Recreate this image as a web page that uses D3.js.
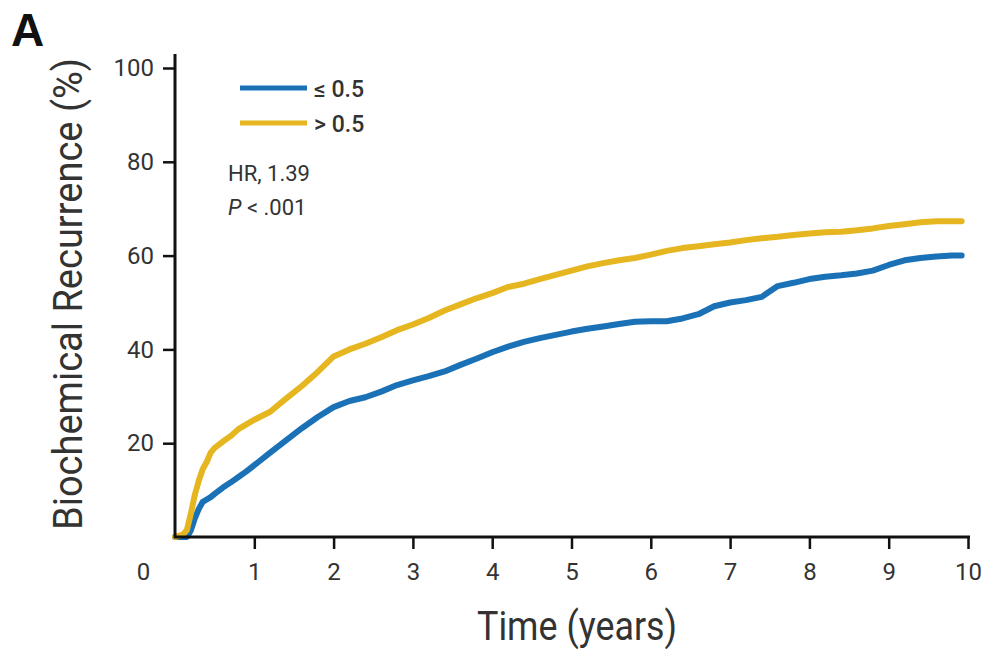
<!DOCTYPE html>
<html>
<head>
<meta charset="utf-8">
<script src="https://cdn.jsdelivr.net/npm/d3@7"></script>
<style>
  body { margin: 0; background: #fff; }
  text { font-family: Roboto, "Liberation Sans", sans-serif; fill: #333; }
</style>
</head>
<body>
<div id="chart"></div>
<script>
// time grid (years)
const years = [0, 0.1, 0.15, 0.2, 0.25, 0.3, 0.35, 0.4, 0.45, 0.5, 0.6, 0.7, 0.8, 0.9,
  1.0, 1.2, 1.4, 1.6, 1.8, 2.0, 2.2, 2.4, 2.6, 2.8, 3.0, 3.2, 3.4, 3.6, 3.8,
  4.0, 4.2, 4.4, 4.6, 4.8, 5.0, 5.2, 5.4, 5.6, 5.8, 6.0, 6.2, 6.4, 6.6, 6.8,
  7.0, 7.2, 7.4, 7.6, 7.8, 8.0, 8.2, 8.4, 8.6, 8.8, 9.0, 9.2, 9.4, 9.6, 9.8, 9.92];

// recurrence (%) for <= 0.5
const lowPct = [0, 0, 0, 1.4, 4, 6, 7.5, 8, 8.5, 9.2, 10.5, 11.6, 12.8, 14,
  15.3, 18, 20.6, 23.2, 25.6, 27.7, 29, 29.8, 31, 32.4, 33.4, 34.3, 35.3, 36.7, 38,
  39.4, 40.6, 41.6, 42.4, 43.1, 43.8, 44.4, 44.9, 45.4, 45.9, 46, 46, 46.6, 47.5, 49.2,
  50, 50.5, 51.2, 53.5, 54.2, 55, 55.5, 55.8, 56.2, 56.8, 58, 59, 59.5, 59.8, 60, 60];

// recurrence (%) for > 0.5
const highPct = [0, 0.5, 1.5, 5, 9, 12, 14.5, 16, 18, 19, 20.3, 21.5, 23, 24,
  25, 26.7, 29.5, 32.2, 35.2, 38.5, 40, 41.2, 42.6, 44.1, 45.3, 46.7, 48.3, 49.6, 50.9,
  52, 53.3, 54, 55, 55.9, 56.8, 57.7, 58.4, 59, 59.5, 60.2, 61, 61.6, 62, 62.4,
  62.8, 63.3, 63.7, 64, 64.4, 64.7, 65, 65.1, 65.4, 65.8, 66.3, 66.7, 67.1, 67.3, 67.3, 67.3];

const yTicks = [20, 40, 60, 80, 100];
const xTicks = [0, 1, 2, 3, 4, 5, 6, 7, 8, 9, 10];
const seriesNames = ["\u2264 0.5", "> 0.5"];
const seriesColors = ["#1b71b6", "#e5b620"];

const w = 986;
const h = 649;

const svg = d3.select("#chart").append("svg")
  .attr("width", w)
  .attr("height", h);

const x = d3.scaleLinear().domain([0, 10]).range([175, 968]);
const y = d3.scaleLinear().domain([0, 100]).range([537, 68]);

// panel letter
svg.append("text")
  .attr("x", 11)
  .attr("y", 46)
  .style("font-family", "'Liberation Sans', Arial, sans-serif")
  .style("font-weight", "bold")
  .style("font-size", "46px")
  .style("fill", "#111")
  .text("A");

// curves
const line = d3.line()
  .x((d) => x(d[0]))
  .y((d) => y(d[1]))
  .curve(d3.curveLinear);

[lowPct, highPct].forEach((vals, i) => {
  svg.append("path")
    .datum(years.map((t, k) => [t, vals[k]]))
    .attr("d", line)
    .attr("fill", "none")
    .attr("stroke", seriesColors[i])
    .attr("stroke-width", 6)
    .attr("stroke-linejoin", "round")
    .attr("stroke-linecap", "round");
});

// y axis
const yAxis = svg.append("g")
  .attr("transform", "translate(" + x(0) + ",0)")
  .call(d3.axisLeft(y).tickValues(yTicks).tickSize(12).tickPadding(9));
yAxis.select(".domain").remove();
yAxis.selectAll(".tick line").attr("stroke", "#111").attr("stroke-width", 2.5);
yAxis.selectAll(".tick text").style("font-size", "24px").style("fill", "#333");
yAxis.append("line")
  .attr("x1", 0).attr("x2", 0)
  .attr("y1", y(0) + 1).attr("y2", y(103))
  .attr("stroke", "#111").attr("stroke-width", 3);

// x axis
const xAxis = svg.append("g")
  .attr("transform", "translate(0," + y(0) + ")")
  .call(d3.axisBottom(x).tickValues(xTicks).tickSize(12).tickPadding(14));
xAxis.select(".domain").remove();
xAxis.selectAll(".tick line").attr("stroke", "#111").attr("stroke-width", 2.5);
xAxis.selectAll(".tick text").style("font-size", "24px").style("fill", "#333");
xAxis.selectAll(".tick").filter((d) => d === 0).select("line").remove();
xAxis.selectAll(".tick").filter((d) => d === 0).select("text").attr("x", -32);
xAxis.append("line")
  .attr("x1", x(0) - 1).attr("x2", x(10) + 2)
  .attr("y1", 0).attr("y2", 0)
  .attr("stroke", "#111").attr("stroke-width", 3);

// axis titles
svg.append("text")
  .attr("transform", "translate(82," + 294 + ") rotate(-90)")
  .attr("text-anchor", "middle")
  .attr("textLength", 472)
  .attr("lengthAdjust", "spacingAndGlyphs")
  .style("font-size", "41px")
  .text("Biochemical Recurrence (%)");

svg.append("text")
  .attr("x", 577)
  .attr("y", 640)
  .attr("text-anchor", "middle")
  .attr("textLength", 200)
  .attr("lengthAdjust", "spacingAndGlyphs")
  .style("font-size", "40px")
  .text("Time (years)");

// legend
const legend = svg.append("g");
seriesNames.forEach((name, i) => {
  legend.append("line")
    .attr("x1", 240).attr("x2", 307)
    .attr("y1", 88 + i * 35).attr("y2", 88 + i * 35)
    .attr("stroke", seriesColors[i])
    .attr("stroke-width", 5);
  legend.append("text")
    .attr("x", 314)
    .attr("y", 97 + i * 35)
    .style("font-size", "23px")
    .style("font-weight", "500")
    .text(name);
});

svg.append("text")
  .attr("x", 228)
  .attr("y", 181)
  .style("font-size", "22px")
  .text("HR, 1.39");

const pText = svg.append("text")
  .attr("x", 228)
  .attr("y", 215)
  .style("font-size", "22px");
pText.append("tspan").style("font-style", "italic").text("P");
pText.append("tspan").text(" < .001");
</script>
</body>
</html>
